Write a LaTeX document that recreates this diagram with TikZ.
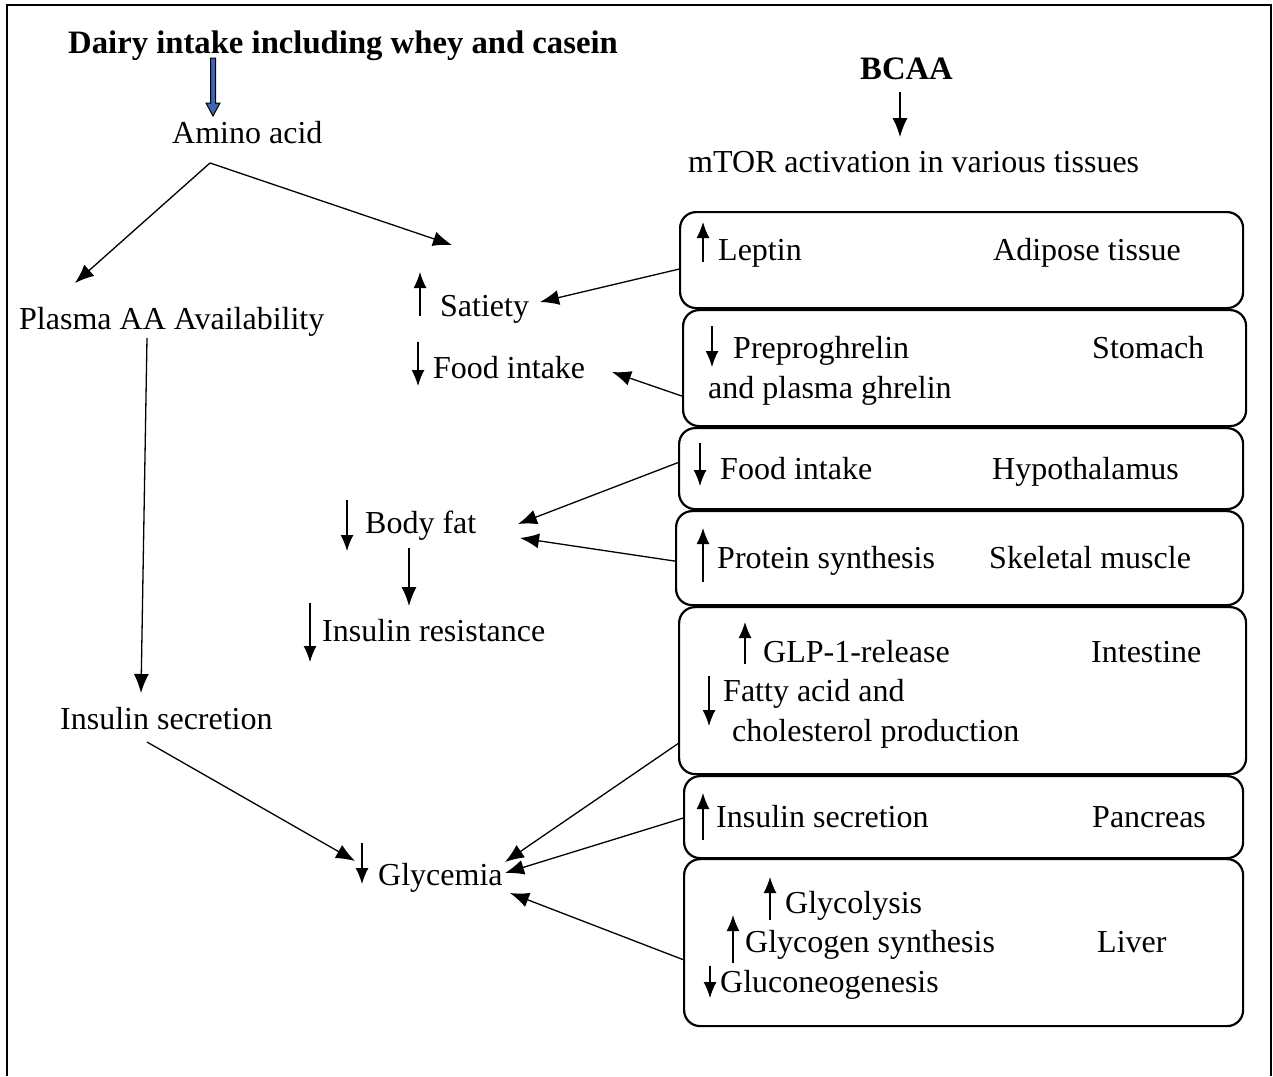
\documentclass[tikz,border=0pt]{standalone}
\usepackage{fontspec}
\setmainfont{Liberation Serif}
\usetikzlibrary{arrows.meta}
\definecolor{arrowblue}{RGB}{62,100,180}
\begin{document}
\begin{tikzpicture}[x=1pt,y=-1pt,
 txt/.style={anchor=base west, inner sep=0pt, font=\fontsize{32}{36}\selectfont},
 btxt/.style={anchor=base west, inner sep=0pt, font=\fontsize{32.7}{36}\selectfont\bfseries},
 con/.style={line width=1.3pt, -{Latex[length=19pt,width=15pt]}},
 tick/.style={line width=1.3pt, -{Latex[length=16pt,width=13pt]}},
 tbox/.style={draw, line width=2.2pt, rounded corners=16pt, inner sep=0pt, anchor=north west},
]
\useasboundingbox (0,0) rectangle (1273,1076);
% outer frame
\draw[line width=2pt] (7,1076) -- (7,5) -- (1271,5) -- (1271,1076);

% boxes
\node[tbox, minimum width=563pt, minimum height=96pt] (adipose) at (679,211) {};
\node[tbox, minimum width=563pt, minimum height=116pt] (stomach) at (682,309) {};
\node[tbox, minimum width=564pt, minimum height=81pt] (hypo) at (678,427) {};
\node[tbox, minimum width=567pt, minimum height=94pt] (skel) at (675,510) {};
\node[tbox, minimum width=567pt, minimum height=167pt] (intest) at (678,606) {};
\node[tbox, minimum width=559pt, minimum height=82pt] (pancr) at (683,775) {};
\node[tbox, minimum width=559pt, minimum height=167pt] (liver) at (683,858) {};

% left texts
\node[btxt] (title) at (68,53) {Dairy intake including whey and casein};
\node[txt] (amino) at (172,143) {Amino acid};
\node[btxt] (bcaa) at (860,79) {BCAA};
\node[txt] (mtor) at (688,172) {mTOR activation in various tissues};
\node[txt] (plasma) at (19,329) {Plasma AA Availability};
\node[txt] (insec) at (60,729) {Insulin secretion};
\node[txt] (glyc) at (378,885) {Glycemia};
\node[txt] (sat) at (440,316) {Satiety};
\node[txt] (food) at (433,378) {Food intake};
\node[txt] (bodyfat) at (365,533) {Body fat};
\node[txt] (insres) at (322,641) {Insulin resistance};

% box texts
\node[txt] (leptin) at (718,260) {Leptin};
\node[txt] (adiposet) at (993,260) {Adipose tissue};
\node[txt] (prepro) at (733,358) {Preproghrelin};
\node[txt] (andpl) at (708,398) {and plasma ghrelin};
\node[txt] (stomacht) at (1092,358) {Stomach};
\node[txt] (food2) at (720,479) {Food intake};
\node[txt] (hypot) at (992,479) {Hypothalamus};
\node[txt] (prot) at (717,568) {Protein synthesis};
\node[txt] (skelt) at (989,568) {Skeletal muscle};
\node[txt] (glp) at (763,662) {GLP-1-release};
\node[txt] (intestt) at (1091,662) {Intestine};
\node[txt] (fatty) at (723,701) {Fatty acid and};
\node[txt] (chol) at (732,741) {cholesterol production};
\node[txt] (insec2) at (716,827) {Insulin secretion};
\node[txt] (pancrt) at (1092,827) {Pancreas};
\node[txt] (glycol) at (785,913) {Glycolysis};
\node[txt] (glycog) at (745,952) {Glycogen synthesis};
\node[txt] (livert) at (1097,952) {Liver};
\node[txt] (gluco) at (720,992) {Gluconeogenesis};

% blue block arrow from title to amino acid
\draw[fill=arrowblue, line width=1pt] (210.5,58) -- (215.5,58) -- (215.5,103) -- (220,103) -- (213,116) -- (206,103) -- (210.5,103) -- cycle;

% named connector end points
\coordinate (asplit) at (210,163);
\coordinate (toPlasma) at (75,283);
\coordinate (toSatTop) at (452,245);
\coordinate (bcaaS) at (900,92);
\coordinate (mtorN) at (900,137);
\coordinate (plasmaS) at (147,338);
\coordinate (insecN) at (141,693);
\coordinate (insecS) at (147,742);
\coordinate (glycW) at (355,861);
\coordinate (satE) at (540,302);
\coordinate (foodE) at (612,372);
\coordinate (bfE1) at (518,524);
\coordinate (bfE2) at (520,538);
\coordinate (bfS) at (409,548);
\coordinate (irN) at (409,606);
\coordinate (glycE1) at (505,862);
\coordinate (glycE2) at (505,873);
\coordinate (glycE3) at (510,893);

% connectors
\draw[con] (asplit) -- (toPlasma);
\draw[con] (asplit) -- (toSatTop);
\draw[con] (bcaaS) -- (mtorN);
\draw[con] (plasmaS) -- (insecN);
\draw[con] (insecS) -- (glycW);
\draw[con] ([yshift=-9pt]adipose.west) -- (satE);
\draw[con] ([yshift=-28pt]stomach.west) -- (foodE);
\draw[con] ([yshift=6pt]hypo.west) -- (bfE1);
\draw[con] ([yshift=-3pt]skel.west) -- (bfE2);
\draw[con] (bfS) -- (irN);
\draw[con] ([yshift=-53pt]intest.west) -- (glycE1);
\draw[con] ([yshift=-1pt]pancr.west) -- (glycE2);
\draw[con] ([yshift=-17pt]liver.west) -- (glycE3);

% small up/down arrows
\draw[tick] (420,316) -- (420,272);
\draw[tick] (418,342) -- (418,386);
\draw[tick] (347,500) -- (347,551);
\draw[tick] (310,603) -- (310,662);
\draw[tick] (362,843) -- (362,884);
\draw[tick] (703,262) -- (703,222);
\draw[tick] (712,326) -- (712,367);
\draw[tick] (700,443) -- (700,486);
\draw[tick] (703,582) -- (703,528);
\draw[tick] (745,664) -- (745,622);
\draw[tick] (709,676) -- (709,726);
\draw[tick] (703,840) -- (703,793);
\draw[tick] (770,920) -- (770,877);
\draw[tick] (733,963) -- (733,915);
\draw[tick] (710,966) -- (710,998);
\end{tikzpicture}
\end{document}
